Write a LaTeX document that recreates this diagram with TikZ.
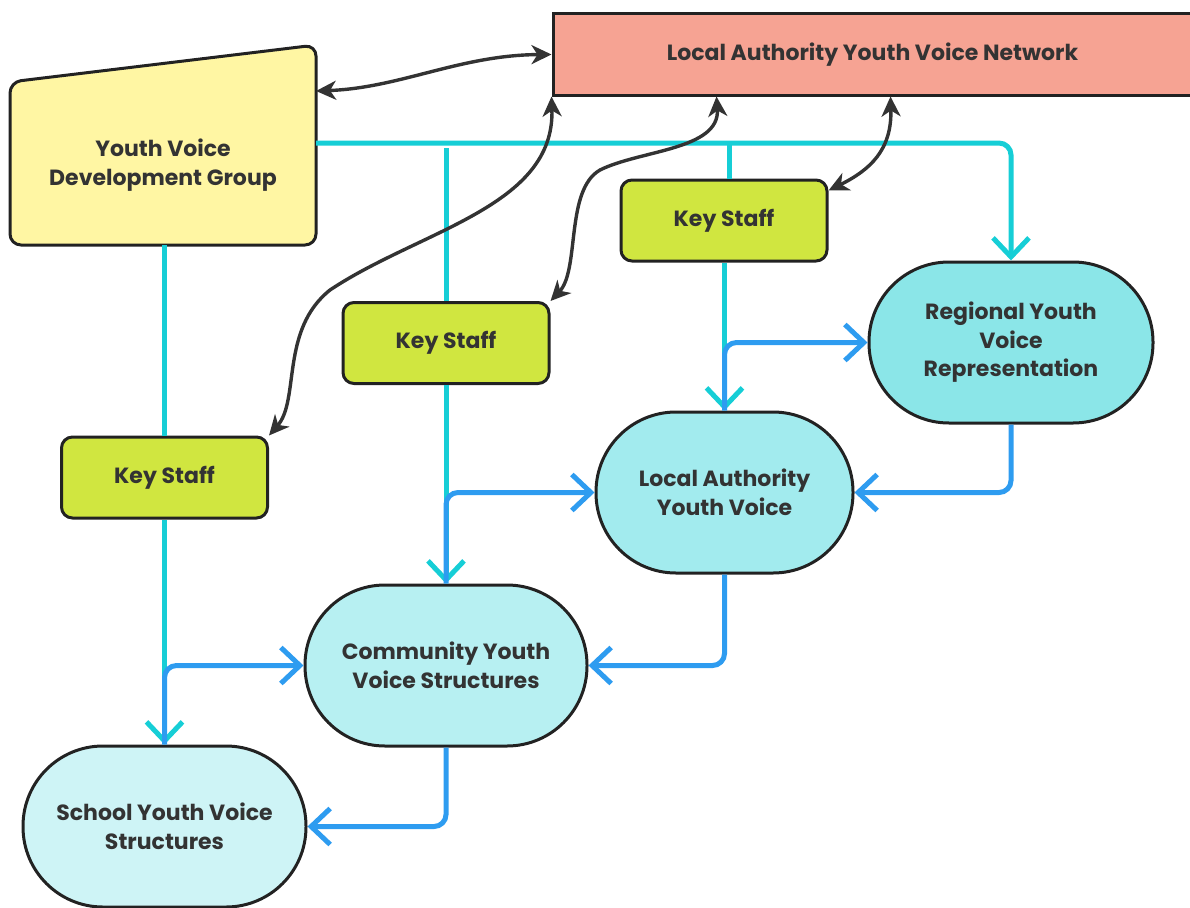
\documentclass[tikz,border=0pt]{standalone}
\usepackage{fontspec}
\setmainfont{Poppins}
\usetikzlibrary{arrows.meta,calc}
\definecolor{txt}{HTML}{333333}
\definecolor{edge}{HTML}{222222}
\definecolor{yvfill}{HTML}{FFF6A3}
\definecolor{netfill}{HTML}{F6A393}
\definecolor{ksfill}{HTML}{D0E640}
\definecolor{regfill}{HTML}{8BE6E8}
\definecolor{lafill}{HTML}{A2EBEE}
\definecolor{comfill}{HTML}{B7F0F2}
\definecolor{schfill}{HTML}{CEF4F6}
\definecolor{cyanline}{HTML}{16CED6}
\definecolor{blueline}{HTML}{2E9CF0}
\definecolor{dark}{HTML}{333333}
\tikzset{
  lbl/.style={text=txt,font=\fontsize{22}{28.5}\selectfont\bfseries,align=center},
  box/.style={lbl,draw=edge,line width=3pt,inner sep=0pt},
  keybox/.style={box,fill=ksfill,rounded corners=11pt,minimum width=206pt,minimum height=81pt},
  stadium/.style={box,rounded corners=80pt,minimum height=161pt},
  cyanconn/.style={draw=cyanline,line width=5pt,rounded corners=12pt},
  blueconn/.style={draw=blueline,line width=5pt,rounded corners=12pt},
  chev/.style={-{Straight Barb[length=19pt,width=36pt]}},
  dkconn/.style={draw=dark,line width=3.4pt,{Stealth[length=20pt,width=19pt,inset=6pt]}-{Stealth[length=20pt,width=19pt,inset=6pt]}}
}
\begin{document}
\begin{tikzpicture}[x=1pt,y=-1pt]
\useasboundingbox (0,0) rectangle (1190,907);
% Youth Voice Development Group (trapezoid)
\draw[draw=edge,fill=yvfill,line width=3pt,rounded corners=11pt]
  (10,160) -- (10,82) -- (316,45) -- (316,245) -- (10,245) -- cycle;
\node[lbl] (yv) at (163,165) {Youth Voice\\Development Group};
\coordinate (yvE) at (316,143);
\coordinate (yvR) at (316,91);
\coordinate (yvB) at (164.5,245);
% Network
\node[box,fill=netfill,minimum width=639pt,minimum height=81pt] (net) at (872.5,54.5) {Local Authority Youth Voice Network};
% Key staff
\node[keybox] (ks1) at (724,220.5) {Key Staff};
\node[keybox] (ks2) at (446,343) {Key Staff};
\node[keybox] (ks3) at (164.5,477.5) {Key Staff};
% Stadiums
\node[stadium,fill=regfill,minimum width=284pt] (reg) at (1011,342.5) {Regional Youth\\Voice\\Representation};
\node[stadium,fill=lafill,minimum width=257pt] (la) at (724.5,492.5) {Local Authority\\Youth Voice};
\node[stadium,fill=comfill,minimum width=282pt] (com) at (446,665.5) {Community Youth\\Voice Structures};
\node[stadium,fill=schfill,minimum width=283pt] (sch) at (164.5,826.5) {School Youth Voice\\Structures};
% cyan connectors
\draw[cyanconn,chev] (yvE) -| (reg.north);
\draw[cyanconn] ([yshift=-5pt]ks2.north |- yvE) -- (ks2.north);
\draw[cyanconn] ([xshift=5pt]ks1.north |- yvE) -- ([xshift=5pt]ks1.north);
\draw[cyanconn,chev] (ks1.south -| la.north) -- (la.north);
\draw[cyanconn] (yvB) -- (ks3.north);
\draw[cyanconn,chev] (ks3.south) -- (sch.north);
\draw[cyanconn,chev] (ks2.south) -- (com.north);
% blue connectors
\draw[blueconn,chev] (la.north) |- (reg.west);
\draw[blueconn,chev] (reg.south) |- (la.east);
\draw[blueconn,chev] (la.south) |- (com.east);
\draw[blueconn,chev] (com.north) |- (la.west);
\draw[blueconn,chev] (com.south) |- (sch.east);
\draw[blueconn,chev] (sch.north) |- (com.west);
% dark bidirectional curves
\draw[dkconn] (yvR) .. controls (400,88) and (460,55) .. (net.west);
\draw[dkconn] (net.south west) .. controls (555,207) and (420,230) .. (330,290) .. controls (280,330) and (300,400) .. (ks3.north east);
\draw[dkconn] ([xshift=165pt]net.south west) .. controls (720,150) and (640,150) .. (600,170) .. controls (565,190) and (580,270) .. (ks2.north east);
\draw[dkconn] ([xshift=339pt]net.south west) .. controls (892,150) and (870,170) .. ([yshift=-12pt]ks1.north east);
\end{tikzpicture}
\end{document}
